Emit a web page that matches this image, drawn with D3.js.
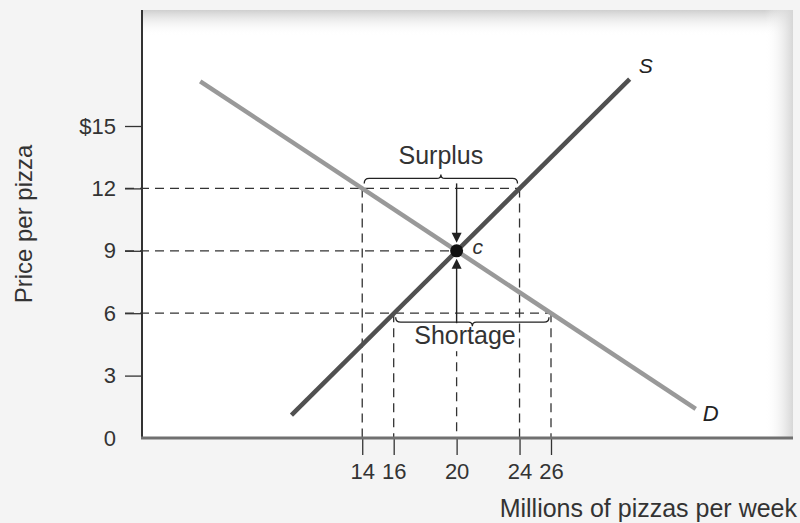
<!DOCTYPE html>
<html>
<head>
<meta charset="utf-8">
<script src="https://cdn.jsdelivr.net/npm/d3@7"></script>
<style>
  html, body { margin: 0; padding: 0; background: #f4f4f4; }
  svg { display: block; font-family: "Liberation Sans", Arial, sans-serif; }
</style>
</head>
<body>
<svg id="chart" width="800" height="523"></svg>
<script>
// Market for pizza: supply, demand, equilibrium, surplus and shortage
const priceTicks = [0, 3, 6, 9, 12, 15];
const priceTickLabels = ["0", "3", "6", "9", "12", "$15"];
const quantityTicks = [14, 16, 20, 24, 26];

// Curve endpoints (quantity in millions, price in dollars)
const supplyQ = [9.5, 31];
const supplyP = [1.1, 17.25];
const demandQ = [3.7, 35.2];
const demandP = [17.15, 1.4];

// Equilibrium and the two off-equilibrium prices
const equilibrium = { q: 20, p: 9 };
const highPrice = { p: 12, qd: 14, qs: 24 };   // surplus
const lowPrice = { p: 6, qs: 16, qd: 26 };     // shortage

const svg = d3.select("#chart");
const plotLeft = 142, plotBottom = 438, plotRight = 793, plotTop = 10;
const FONT = "'Liberation Sans', Arial, sans-serif";

const x = d3.scaleLinear().domain([0, 26]).range([plotLeft, 551]);
const y = d3.scaleLinear().domain([0, 15]).range([plotBottom, 126]);

// Panel background with soft shading on top and right edges
const defs = svg.append("defs");
const gTop = defs.append("linearGradient").attr("id", "shadeTop")
  .attr("x1", 0).attr("y1", 0).attr("x2", 0).attr("y2", 1);
gTop.append("stop").attr("offset", 0).attr("stop-color", "#cfcfcf");
gTop.append("stop").attr("offset", 1).attr("stop-color", "#ffffff").attr("stop-opacity", 0);
const gRight = defs.append("linearGradient").attr("id", "shadeRight")
  .attr("x1", 0).attr("y1", 0).attr("x2", 1).attr("y2", 0);
gRight.append("stop").attr("offset", 0).attr("stop-color", "#ffffff").attr("stop-opacity", 0);
gRight.append("stop").attr("offset", 1).attr("stop-color", "#d6d6d6");

svg.append("rect").attr("x", plotLeft).attr("y", plotTop)
  .attr("width", plotRight - plotLeft).attr("height", plotBottom - plotTop).attr("fill", "#ffffff");
svg.append("rect").attr("x", plotLeft).attr("y", plotTop)
  .attr("width", plotRight - plotLeft).attr("height", 26).attr("fill", "url(#shadeTop)");
svg.append("rect").attr("x", plotRight - 28).attr("y", plotTop)
  .attr("width", 28).attr("height", plotBottom - plotTop).attr("fill", "url(#shadeRight)");

// Dashed guide lines
const guides = svg.append("g").attr("stroke", "#333").attr("stroke-width", 1.3)
  .attr("stroke-dasharray", "9,6").attr("fill", "none");
[[highPrice.p, highPrice.qs], [equilibrium.p, equilibrium.q], [lowPrice.p, lowPrice.qd]].forEach(([p, q]) => {
  guides.append("line").attr("x1", plotLeft - 17).attr("x2", x(q)).attr("y1", y(p)).attr("y2", y(p));
});
[[highPrice.qd, highPrice.p], [highPrice.qs, highPrice.p],
 [lowPrice.qs, lowPrice.p], [lowPrice.qd, lowPrice.p]].forEach(([q, p]) => {
  guides.append("line").attr("x1", x(q)).attr("x2", x(q)).attr("y1", y(p)).attr("y2", plotBottom);
});
guides.append("line").attr("x1", x(equilibrium.q)).attr("x2", x(equilibrium.q))
  .attr("y1", y(lowPrice.p) + 34).attr("y2", plotBottom);

// Supply and demand curves
const line = d3.line().x(d => x(d[0])).y(d => y(d[1]));
svg.append("path").datum(demandQ.map((q, i) => [q, demandP[i]]))
  .attr("d", line).attr("stroke", "#999999").attr("stroke-width", 4.5).attr("fill", "none");
svg.append("path").datum(supplyQ.map((q, i) => [q, supplyP[i]]))
  .attr("d", line).attr("stroke", "#505050").attr("stroke-width", 4.5).attr("fill", "none");

svg.append("text").attr("x", x(supplyQ[1]) + 9).attr("y", y(supplyP[1]) - 6)
  .attr("font-size", 21).attr("font-style", "italic").attr("fill", "#222").text("S");
svg.append("text").attr("x", x(demandQ[1]) + 7).attr("y", y(demandP[1]) + 12)
  .attr("font-size", 22).attr("font-style", "italic").attr("fill", "#222").text("D");

// Curly brace from xa to xb at baseline yb; dir 1 points up, -1 points down
function brace(xa, xb, yb, dir) {
  const xm = (xa + xb) / 2, h = 5 * dir, t = 9 * dir;
  return `M${xa},${yb} Q${xa},${yb - h} ${xa + 5},${yb - h} L${xm - 4},${yb - h} ` +
    `Q${xm},${yb - h} ${xm},${yb - t} Q${xm},${yb - h} ${xm + 4},${yb - h} ` +
    `L${xb - 5},${yb - h} Q${xb},${yb - h} ${xb},${yb}`;
}
svg.append("path").attr("d", brace(x(highPrice.qd) + 2, x(highPrice.qs) - 2, y(highPrice.p) - 5, 1))
  .attr("fill", "none").attr("stroke", "#222").attr("stroke-width", 1.3);
svg.append("text").attr("x", (x(highPrice.qd) + x(highPrice.qs)) / 2).attr("y", y(highPrice.p) - 24)
  .attr("text-anchor", "middle").attr("font-size", 25).attr("fill", "#333").text("Surplus");

svg.append("rect").attr("x", 412).attr("y", y(lowPrice.p) + 10).attr("width", 105).attr("height", 28)
  .attr("fill", "#ffffff");
svg.append("path").attr("d", brace(x(lowPrice.qs) + 2, x(lowPrice.qd) - 2, y(lowPrice.p) + 4, -1))
  .attr("fill", "none").attr("stroke", "#222").attr("stroke-width", 1.3);
svg.append("text").attr("x", 465).attr("y", y(lowPrice.p) + 31)
  .attr("text-anchor", "middle").attr("font-size", 25).attr("fill", "#333").text("Shortage");

// Arrows toward equilibrium
const ex = x(equilibrium.q), ey = y(equilibrium.p);
const arrows = svg.append("g").attr("stroke", "#222").attr("stroke-width", 1.4);
arrows.append("line").attr("x1", ex).attr("x2", ex).attr("y1", y(highPrice.p) - 5).attr("y2", ey - 14);
arrows.append("line").attr("x1", ex).attr("x2", ex).attr("y1", y(lowPrice.p) + 10).attr("y2", ey + 14);
svg.append("path").attr("d", `M${ex - 5},${ey - 18} L${ex + 5},${ey - 18} L${ex},${ey - 8} Z`).attr("fill", "#222");
svg.append("path").attr("d", `M${ex - 5},${ey + 18} L${ex + 5},${ey + 18} L${ex},${ey + 8} Z`).attr("fill", "#222");

svg.append("circle").attr("cx", ex).attr("cy", ey).attr("r", 6.5).attr("fill", "#111");
svg.append("text").attr("x", ex + 16).attr("y", ey + 3).attr("font-size", 21)
  .attr("font-style", "italic").attr("fill", "#333").text("c");

// Axes
const yAxis = d3.axisLeft(y).tickValues(priceTicks)
  .tickFormat((d, i) => priceTickLabels[i]).tickSize(17).tickSizeOuter(0).tickPadding(9);
const gy = svg.append("g").attr("transform", `translate(${plotLeft},0)`).call(yAxis);
gy.select(".domain").remove();
gy.selectAll(".tick line").attr("stroke", "#333").attr("stroke-width", 1.3);
gy.selectAll(".tick").filter(d => d === 0).select("line").remove();
gy.selectAll(".tick text").attr("font-size", 22).attr("fill", "#333").attr("font-family", FONT);

const xAxis = d3.axisBottom(x).tickValues(quantityTicks).tickSize(17).tickSizeOuter(0).tickPadding(8);
const gx = svg.append("g").attr("transform", `translate(0,${plotBottom})`).call(xAxis);
gx.select(".domain").remove();
gx.selectAll(".tick line").attr("stroke", "#333").attr("stroke-width", 1.3);
gx.selectAll(".tick text").attr("font-size", 22).attr("fill", "#333").attr("font-family", FONT);

svg.append("line").attr("x1", plotLeft).attr("x2", plotLeft).attr("y1", plotTop).attr("y2", plotBottom)
  .attr("stroke", "#333").attr("stroke-width", 2);
svg.append("line").attr("x1", plotLeft - 1).attr("x2", plotRight).attr("y1", plotBottom).attr("y2", plotBottom)
  .attr("stroke", "#707070").attr("stroke-width", 3);

// Axis titles
svg.append("text").attr("transform", "translate(32,224) rotate(-90)").attr("text-anchor", "middle")
  .attr("font-size", 24).attr("fill", "#333").text("Price per pizza");
svg.append("text").attr("x", 797).attr("y", 517).attr("text-anchor", "end")
  .attr("font-size", 25).attr("fill", "#333").text("Millions of pizzas per week");
</script>
</body>
</html>
